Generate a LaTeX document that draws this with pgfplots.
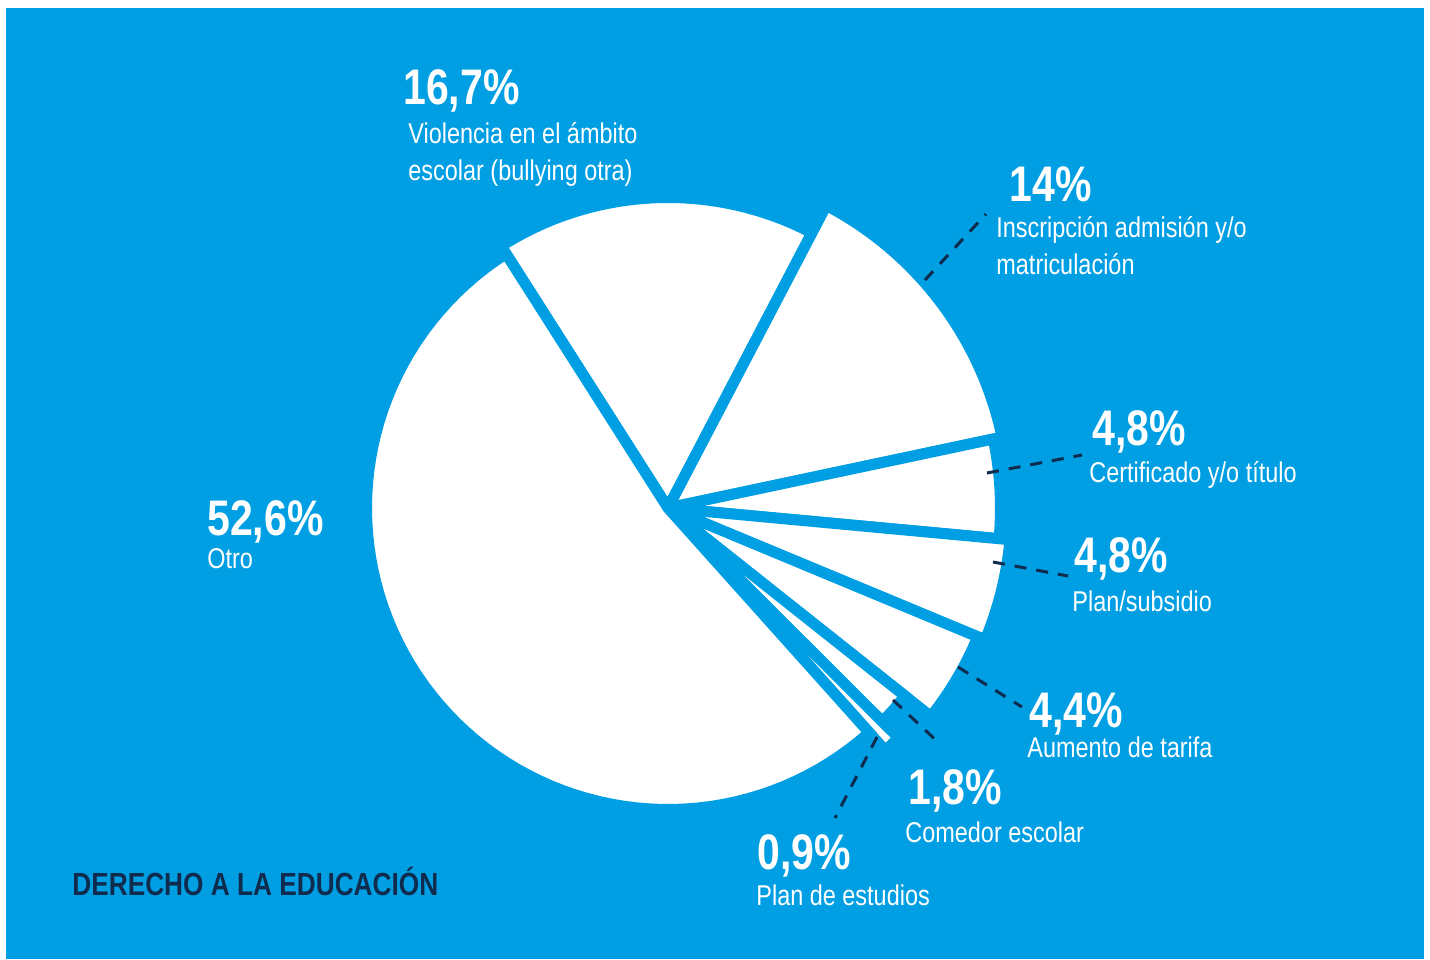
\documentclass[border=0pt]{standalone}
\usepackage{pgfplots}
\pgfplotsset{compat=1.18}
\usepackage{fontspec}
\setmainfont{Liberation Sans}[FakeStretch=0.82]
\definecolor{pieblue}{HTML}{009FE3}
\definecolor{navy}{HTML}{0F2C4E}
% slice: end (upper) angle, percentage, radius (px); the slice spans [end-3.6*pct, end]
\newcommand{\slice}[3]{%
  \addplot[fill=white, draw=pieblue, line width=5.5pt, line join=miter,
    domain={#1-3.6*#2}:{#1}, samples=80, variable=\t]
    ({668+#3*cos(\t)},{508-#3*sin(\t)}) -- (axis cs:668,508) -- cycle;}
\newcommand{\lab}{\fontsize{14.3}{17}\selectfont}
\newcommand{\pct}{\bfseries\fontsize{25}{30}\selectfont}
\begin{document}
\begin{tikzpicture}
\begin{axis}[width=715pt, height=479.5pt, scale only axis,
  xmin=0, xmax=1430, ymin=0, ymax=959, y dir=reverse,
  axis lines=none, clip=false]
\addplot[fill=white, draw=none] coordinates {(0,0) (1430,0) (1430,959) (0,959)} -- cycle;
\addplot[fill=pieblue, draw=none] coordinates {(6,8) (1424,8) (1424,959) (6,959)} -- cycle;
% data: percentages 16.7, 14, 4.8, 4.8, 4.4, 1.8, 0.9, 52.6
\slice{122.5}{16.7}{310.5}
\slice{62.38}{14}{341.5}
\slice{11.98}{4.8}{332.5}
\slice{-5.30}{4.8}{343.5}
\slice{-22.58}{4.4}{335.5}
\slice{-38.42}{1.8}{302.5}
\slice{-44.90}{0.9}{325.5}
\slice{311.86}{52.6}{301.5}
% leader lines
\begin{scope}[navy, line width=1.5pt, dash pattern=on 6pt off 5pt]
\draw (axis cs:925,280) -- (axis cs:986,214);
\draw (axis cs:987,473) -- (axis cs:1082,455);
\draw (axis cs:993,562) -- (axis cs:1068,576);
\draw (axis cs:958,667) -- (axis cs:1022,707);
\draw (axis cs:893,700) -- (axis cs:940,744);
\draw (axis cs:877,737) -- (axis cs:835,818);
\end{scope}
% labels
\begin{scope}[every node/.style={anchor=base west, inner sep=0pt, text=white}]
\node at (axis cs:403,104) {\pct 16,7\%};
\node at (axis cs:408,143) {\lab Violencia en el ámbito};
\node at (axis cs:408,180) {\lab escolar (bullying otra)};
\node at (axis cs:1009,201) {\pct 14\%};
\node at (axis cs:996,237) {\lab Inscripción admisión y/o};
\node at (axis cs:996,274) {\lab matriculación};
\node at (axis cs:1092,445) {\pct 4,8\%};
\node at (axis cs:1089,482) {\lab Certificado y/o título};
\node at (axis cs:1074,572) {\pct 4,8\%};
\node at (axis cs:1072,611) {\lab Plan/subsidio};
\node at (axis cs:1029,727) {\pct 4,4\%};
\node at (axis cs:1027,757) {\lab Aumento de tarifa};
\node at (axis cs:908,804) {\pct 1,8\%};
\node at (axis cs:905,842) {\lab Comedor escolar};
\node at (axis cs:757,869) {\pct 0,9\%};
\node at (axis cs:756,905) {\lab Plan de estudios};
\node at (axis cs:207,535) {\pct 52,6\%};
\node at (axis cs:207,568) {\lab Otro};
\node[text=navy] at (axis cs:72,895) {\bfseries\fontsize{16}{19}\selectfont DERECHO A LA EDUCACIÓN};
\end{scope}
\end{axis}
\end{tikzpicture}
\end{document}
